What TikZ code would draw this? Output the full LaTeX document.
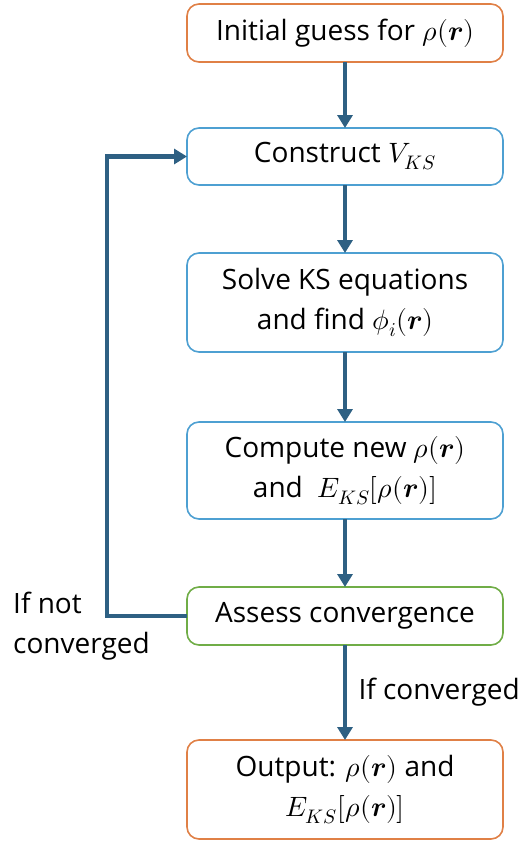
\documentclass[tikz,border=0pt]{standalone}
\usepackage{amsmath}
\usepackage{fontspec}
\usepackage{unicode-math}
\setmainfont{Open Sans}
\setmathfont{Latin Modern Math}
\usetikzlibrary{positioning, arrows.meta, calc}

\definecolor{flowarrow}{RGB}{46,96,131}
\definecolor{boxorange}{RGB}{224,128,70}
\definecolor{boxblue}{RGB}{78,160,210}
\definecolor{boxgreen}{RGB}{112,173,71}

\begin{document}
\begin{tikzpicture}[
    font=\fontsize{28}{40}\selectfont,
    % Styles
    stepbox/.style={ % Process step
        rectangle,
        rounded corners=12pt,
        minimum width=316pt,
        minimum height=58pt,
        outer sep=0pt,
        align=center,
        line width=1.6pt,
        draw=boxblue,
        fill=white
    },
    tallbox/.style={ % Two-line step
        stepbox,
        minimum height=99pt
    },
    arrow/.style={
        -{Triangle[width=15pt,length=13pt]},
        line width=4.5pt,
        flowarrow
    }
]
    \useasboundingbox (0,0) rectangle (522pt,-841pt);

    % SCF cycle nodes
    \node[stepbox, draw=boxorange] (guess) at (345pt,-33pt) {Initial guess for $\rho(\symbfit{r})$};
    \node[stepbox, minimum height=57pt] (construct) [below=66pt of guess] {Construct $V_{KS}$};
    \node[tallbox] (solve) [below=68pt of construct] {Solve KS equations\\and find $\phi_i(\symbfit{r})$};
    \node[tallbox, minimum height=97pt] (compute) [below=70pt of solve] {Compute new $\rho(\symbfit{r})$\\and \ $E_{KS}[\rho(\symbfit{r})]$};
    \node[stepbox, draw=boxgreen] (assess) [below=68pt of compute] {Assess convergence};
    \node[tallbox, draw=boxorange] (output) [below=95pt of assess] {Output: $\rho(\symbfit{r})$ and\\$E_{KS}[\rho(\symbfit{r})]$};

    % Flow arrows
    \draw[arrow] (guess) -- (construct);
    \draw[arrow] (construct) -- (solve);
    \draw[arrow] (solve) -- (compute);
    \draw[arrow] (compute) -- (assess);
    \draw[arrow] (assess) -- (output) node[midway, right=8pt, text=black] (yes) {If converged};

    % Feedback loop
    \draw[arrow] (assess.west) -- ++(-80pt,0) |- (construct.west);
    \node[align=left, inner sep=0pt, anchor=west] (no) at ($(assess.west)+(-174pt,-10pt)$) {If not\\converged};
\end{tikzpicture}
\end{document}
